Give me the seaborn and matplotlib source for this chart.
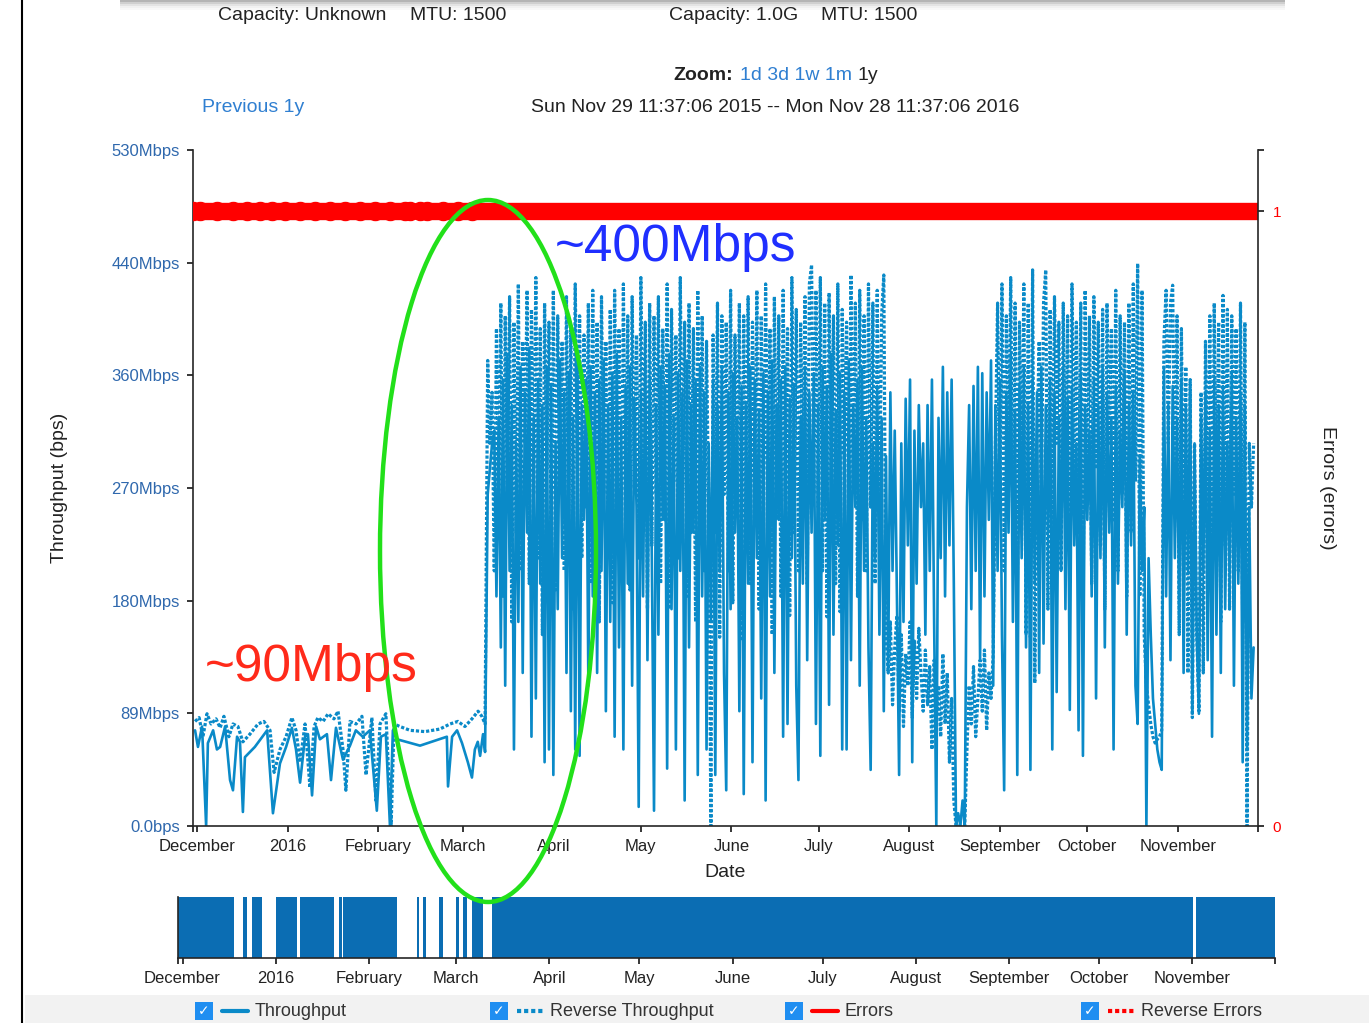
import numpy as np
import pandas as pd
import matplotlib
matplotlib.use("Agg")
import matplotlib.pyplot as plt
import seaborn as sns
from matplotlib.patches import Ellipse, Rectangle
from matplotlib.lines import Line2D

sns.set_style("ticks")
plt.rcParams['font.family'] = ['Liberation Sans', 'DejaVu Sans']

start = pd.Timestamp("2015-11-29 11:37:06")
end = pd.Timestamp("2016-11-28 11:37:06")

# before the upgrade: (days after start, Mbps)
tp_early_days = [0.7, 1.7, 3.1, 4.5, 5.1, 6.9, 8.2, 9.3, 11.0, 12.7, 13.7, 15.1, 16.1, 17.1, 17.8,
                 21.2, 25.4, 27.4, 29.8, 31.9, 33.9, 35.3, 36.7, 38.4, 39.4, 40.8, 42.2, 43.5, 45.9,
                 47.3, 49.0, 51.4, 53.8, 55.8, 58.2, 60.6, 63.0, 64.4, 66.1, 67.5, 68.5, 69.9, 77.8,
                 87.0, 87.4, 88.8, 90.5, 92.2, 94.2, 95.6, 96.6, 97.6, 98.4, 99.4, 100.1]
tp_early = [75, 62, 78, 0, 65, 75, 60, 62, 78, 36, 28, 70, 66, 11, 54,
            62, 75, 10, 49, 62, 77, 60, 34, 70, 72, 24, 78, 68, 72,
            36, 77, 52, 63, 75, 70, 75, 12, 70, 72, 0, 75, 68, 63,
            70, 31, 70, 75, 65, 50, 38, 60, 66, 55, 72, 58]

rev_early_days = [0.7, 2.1, 3.4, 4.8, 6.2, 7.9, 9.3, 10.6, 12.3, 13.7, 15.4, 17.1, 19.5, 22.3, 24.3,
                  26.4, 27.8, 29.8, 31.9, 33.9, 35.3, 36.7, 38.4, 40.1, 41.5, 42.8, 44.6, 46.3, 48.3,
                  49.7, 51.4, 52.4, 53.8, 55.9, 57.9, 59.3, 61.3, 62.7, 64.1, 66.1, 67.9, 68.9, 70.9,
                  74.4, 79.5, 84.6, 88.1, 90.8, 93.2, 95.6, 97.7, 99.0, 100.1]
rev_early = [82, 85, 70, 88, 80, 84, 77, 86, 70, 80, 78, 66, 72, 80, 82,
             75, 42, 60, 70, 85, 75, 50, 80, 30, 78, 85, 82, 88, 84,
             90, 60, 28, 82, 80, 86, 40, 85, 20, 80, 88, 0, 80, 78,
             75, 74, 76, 80, 82, 78, 84, 90, 86, 80]

# after the upgrade: one test every 0.75 days from day 101
dense_days = list(101 + 0.75 * np.arange(351))
tp_dense = [
    260, 280, 300, 310, 180, 320, 140, 350, 110, 370, 200, 330, 60, 300, 160, 360, 120, 340, 230, 375, 70, 320, 100, 350, 190,
    330, 50, 360, 60, 345, 40, 300, 170, 365, 210, 340, 120, 355, 90, 320, 60, 370, 55, 330, 240, 350, 110, 360, 180, 340,
    120, 350, 200, 365, 90, 330, 160, 355, 70, 370, 140, 320, 60, 345, 190, 360, 110, 335, 250, 15, 340, 180, 365, 130, 350,
    210, 12, 330, 150, 360, 240, 345, 45, 370, 170, 320, 60, 355, 200, 340, 20, 365, 140, 330, 230, 350, 40, 360, 180, 340,
    60, 300, 160, 350, 40, 330, 200, 360, 120, 28, 340, 170, 355, 230, 320, 90, 345, 25, 330, 190, 360, 50, 350, 210, 325,
    100, 355, 20, 340, 180, 365, 120, 330, 240, 350, 70, 360, 80, 335, 210, 345, 110, 36, 320, 190, 360, 130, 340, 230, 355,
    80, 330, 55, 360, 240, 345, 95, 370, 150, 325, 220, 355, 60, 340, 60, 365, 130, 330, 250, 350, 110, 360, 200, 320, 140,
    44, 300, 210, 345, 150, 320, 90, 290, 120, 340, 200, 310, 180, 40, 300, 160, 335, 220, 350, 50, 310, 190, 330, 250, 300,
    150, 330, 200, 350, 160, 0, 320, 210, 360, 180, 340, 220, 350, 190, 0, 10, 0, 20, 0, 250, 330, 170, 345, 200, 360,
    130, 355, 180, 340, 240, 365, 110, 330, 200, 350, 150, 28, 340, 230, 370, 160, 325, 40, 345, 210, 360, 140, 330, 44, 350,
    190, 340, 120, 360, 143, 330, 230, 350, 60, 340, 105, 320, 200, 360, 170, 335, 91, 345, 220, 300, 75, 355, 55, 330, 240,
    310, 180, 350, 100, 330, 210, 360, 140, 340, 230, 320, 60, 345, 190, 310, 250, 355, 150, 330, 220, 340, 110, 80, 290, 200,
    250, 0, 210, 150, 100, 80, 60, 50, 44, 360, 180, 330, 130, 345, 210, 320, 160, 350, 120, 330, 200, 340, 88, 300, 150,
    88, 320, 200, 340, 130, 310, 70, 350, 150, 330, 120, 345, 170, 300, 200, 355, 110, 320, 190, 340, 50, 330, 60, 250, 100, 140]
rev_dense = [
    365, 300, 340, 200, 390, 250, 410, 180, 400, 270, 415, 160, 395, 230, 425, 200, 380, 300, 420, 190, 405, 260, 430, 210, 390,
    150, 410, 280, 395, 230, 420, 185, 400, 260, 380, 200, 415, 240, 390, 170, 425, 280, 400, 210, 385, 250, 410, 190, 420, 230,
    395, 160, 415, 260, 380, 220, 405, 175, 420, 270, 390, 200, 425, 240, 400, 185, 415, 265, 385, 210, 430, 250, 395, 170, 410,
    220, 400, 260, 415, 190, 390, 240, 425, 170, 405, 270, 385, 210, 430, 250, 395, 180, 410, 230, 390, 160, 420, 260, 400, 200,
    380, 240, 0, 385, 230, 410, 148, 400, 260, 395, 200, 420, 175, 385, 250, 410, 145, 400, 230, 415, 190, 395, 260, 420, 170,
    400, 225, 425, 260, 390, 150, 415, 240, 400, 180, 420, 255, 390, 165, 430, 230, 405, 200, 395, 270, 415, 190, 425, 440, 260,
    420, 250, 430, 200, 410, 164, 418, 270, 400, 190, 425, 168, 405, 290, 395, 220, 432, 260, 410, 180, 420, 240, 400, 200, 425,
    250, 410, 190, 420, 230, 400, 432, 150, 120, 160, 95, 140, 165, 90, 150, 78, 135, 110, 160, 85, 145, 100, 155, 120, 90,
    138, 95, 125, 60, 130, 85, 110, 70, 135, 80, 120, 50, 100, 20, 0, 0, 0, 0, 0, 60, 110, 80, 125, 70, 100,
    130, 90, 138, 75, 120, 100, 135, 300, 410, 250, 425, 200, 400, 280, 430, 220, 410, 180, 395, 260, 425, 150, 410, 148, 436,
    112, 300, 380, 250, 410, 436, 170, 405, 230, 415, 300, 395, 200, 410, 260, 400, 190, 425, 280, 395, 230, 410, 150, 420, 260,
    400, 190, 415, 280, 395, 220, 405, 170, 410, 300, 390, 240, 420, 200, 400, 260, 395, 180, 410, 230, 425, 270, 441, 180, 420,
    150, 110, 95, 80, 70, 65, 68, 70, 75, 380, 420, 300, 410, 424, 260, 400, 150, 390, 200, 360, 120, 350, 85, 300, 150,
    90, 340, 120, 380, 250, 400, 180, 410, 230, 395, 160, 416, 220, 405, 170, 400, 260, 390, 200, 410, 160, 395, 0, 300, 250, 300]

# errors (always 1), two runs with a short gap
err_days_a = [0, 2.4, 8.2, 13.7, 18.5, 23.0, 27.1, 31.5, 36.7, 41.8, 46.9, 52.1, 57.2, 62.4, 67.5, 72.6, 74.4]
err_days_b = [77.8, 80.2, 85.7, 90.8, 95.6, 100, 115, 130, 145, 160, 175, 190, 205, 220, 235,
              250, 265, 280, 295, 310, 325, 340, 355, 365]

# overview strip: periods with data
ov_start = [0, 21.6, 24.6, 32.6, 40.6, 53.6, 54.9, 79.5, 81.5, 86.9, 92.5, 94.8, 97.8, 104.5, 338.7]
ov_end = [18.6, 23.0, 28.0, 39.6, 51.9, 54.6, 72.9, 80.2, 82.5, 88.2, 93.5, 96.2, 101.5, 337.7, 365]

month_ticks = ["2015-12-01", "2016-01-01", "2016-02-01", "2016-03-01", "2016-04-01", "2016-05-01",
               "2016-06-01", "2016-07-01", "2016-08-01", "2016-09-01", "2016-10-01", "2016-11-01"]
month_labels = ["December", "2016", "February", "March", "April", "May", "June", "July",
                "August", "September", "October", "November"]

y_ticks = [0, 88.33, 176.67, 265, 353.33, 441.67, 530]
y_labels = ["0.0bps", "89Mbps", "180Mbps", "270Mbps", "360Mbps", "440Mbps", "530Mbps"]

BLUE = "#0a8ac8"
RED = "#ff0000"
LINK = "#2f7fd1"

W, H = 1369, 1023


def to_dates(days):
    return start + pd.to_timedelta(np.asarray(days, dtype=float), unit="D")


fig = plt.figure(figsize=(W / 100, H / 100), dpi=100)
fig.patch.set_facecolor("white")

ax = fig.add_axes([193 / W, 1 - 826 / H, 1065 / W, 676 / H])

df_tp = pd.DataFrame({"date": to_dates(tp_early_days + dense_days), "bps": tp_early + tp_dense})
df_rev = pd.DataFrame({"date": to_dates(rev_early_days + dense_days), "bps": rev_early + rev_dense})
sns.lineplot(data=df_tp, x="date", y="bps", ax=ax, color=BLUE, linewidth=1.9, estimator=None)
sns.lineplot(data=df_rev, x="date", y="bps", ax=ax, color=BLUE, linewidth=2.3,
             linestyle=(0, (1, 0.6)), estimator=None)

ax.set_xlim(start, end)
ax.set_ylim(0, 530)
ax.set_yticks(y_ticks)
ax.set_yticklabels(y_labels)
xt = [start] + list(pd.to_datetime(month_ticks)) + [end]
ax.set_xticks(xt)
ax.set_xticklabels([""] + month_labels + [""])
ax.tick_params(axis="both", length=4.5, width=1.1, color="black", labelsize=12)
ax.tick_params(axis="y", labelcolor="#2f68ad", pad=5)
ax.tick_params(axis="x", labelcolor="#222222", pad=5)
ax.spines["top"].set_visible(False)
ax.spines["right"].set_visible(False)
ax.spines["left"].set_linewidth(1.2)
ax.spines["bottom"].set_linewidth(1.2)
ax.set_xlabel("Date", fontsize=14, color="#222222")
ax.xaxis.set_label_coords(0.5, -0.056)
ax.set_ylabel("Throughput (bps)", fontsize=14, color="#222222")
ax.yaxis.set_label_coords(-0.117, 0.5)

ax2 = ax.twinx()
ax2.set_ylim(0, 1.0992)
ax2.plot(to_dates(err_days_a), [1] * len(err_days_a), color=RED, lw=12.5, marker="o", ms=14,
         markeredgewidth=0, solid_capstyle="round")
ax2.plot(to_dates(err_days_b), [1] * len(err_days_b), color=RED, lw=12.5, marker="o", ms=14,
         markevery=[0, 1, 2, 3, 4], markeredgewidth=0, solid_capstyle="round")
ax2.set_yticks([0, 1, 1.0992])
ax2.set_yticklabels(["0", "1", ""])
ax2.tick_params(axis="y", length=4.5, width=1.1, color="black", labelcolor=RED, labelsize=11, pad=6)
ax2.spines["top"].set_visible(False)
ax2.spines["left"].set_visible(False)
ax2.spines["bottom"].set_visible(False)
ax2.spines["right"].set_linewidth(1.2)
ax2.set_ylabel("Errors (errors)", fontsize=14, color="#222222", rotation=270, va="center")
ax2.yaxis.set_label_coords(1.065, 0.5)

# overview strip
ov = fig.add_axes([178 / W, 1 - 958 / H, 1097 / W, 61 / H])
for s, e in zip(ov_start, ov_end):
    ov.fill_between(to_dates([s, e]), 0, 1, color="#0b6db3", linewidth=0)
ov.set_xlim(start, end)
ov.set_ylim(0, 1)
ov.set_yticks([])
ov.set_xticks(xt)
ov.set_xticklabels([""] + month_labels + [""])
ov.tick_params(axis="x", length=4.5, width=1.1, color="black", labelsize=12, labelcolor="#222222", pad=5)
ov.spines["top"].set_visible(False)
ov.spines["right"].set_visible(False)
ov.spines["left"].set_linewidth(1.2)
ov.spines["bottom"].set_linewidth(1.2)

# page decorations
fig.add_artist(Rectangle((25 / W, 0), 1, 28 / H, transform=fig.transFigure,
                         facecolor="#f2f2f2", edgecolor="none", zorder=0))
fig.add_artist(Line2D([22 / W, 22 / W], [0, 1], transform=fig.transFigure, color="black", lw=1.5))
for i, a in enumerate([0.55, 0.35, 0.2, 0.1, 0.05]):
    fig.add_artist(Rectangle((120 / W, 1 - (i + 1) * 2 / H), 1165 / W, 2 / H, transform=fig.transFigure,
                             facecolor="#777777", alpha=a, edgecolor="none"))

fig.text(218 / W, 1 - 15 / H, "Capacity: Unknown", fontsize=14, color="#222222", va="center")
fig.text(410 / W, 1 - 15 / H, "MTU: 1500", fontsize=14, color="#222222", va="center")
fig.text(669 / W, 1 - 15 / H, "Capacity: 1.0G", fontsize=14, color="#222222", va="center")
fig.text(821 / W, 1 - 15 / H, "MTU: 1500", fontsize=14, color="#222222", va="center")

fig.text(673 / W, 1 - 75 / H, "Zoom:", fontsize=14, fontweight="bold", color="#222222", va="center")
fig.text(740 / W, 1 - 75 / H, "1d 3d 1w 1m", fontsize=14, color=LINK, va="center")
fig.text(857 / W, 1 - 75 / H, "1y", fontsize=14, color="#222222", va="center")
fig.text(202 / W, 1 - 107 / H, "Previous 1y", fontsize=14, color=LINK, va="center")
fig.text(775 / W, 1 - 107 / H, "Sun Nov 29 11:37:06 2015 -- Mon Nov 28 11:37:06 2016",
         fontsize=14, color="#222222", va="center", ha="center")

# annotations drawn over the chart
fig.add_artist(Ellipse((488 / W, 1 - 551 / H), 216 / W, 702 / H, transform=fig.transFigure,
                       fill=False, edgecolor="#22e01a", lw=3.2, zorder=5))
fig.text(205 / W, 1 - 668 / H, "~90Mbps", fontsize=37, color="#ff2a1a", va="center", zorder=6)
fig.text(555 / W, 1 - 247 / H, "~400Mbps", fontsize=37, color="#1f2fff", va="center", zorder=6)

# legend row
legend_items = [(204, "Throughput", BLUE, "-"), (499, "Reverse Throughput", BLUE, (0, (1, 0.7))),
                (794, "Errors", RED, "-"), (1090, "Reverse Errors", RED, (0, (1, 0.7)))]
ly = 1 - 1011 / H
for x0, label, col, ls in legend_items:
    fig.add_artist(Line2D([x0 / W], [ly], transform=fig.transFigure, marker="s", ms=13,
                          color="#1f8ef1", markeredgewidth=0))
    fig.text(x0 / W, ly, "\u2713", family=["DejaVu Sans"], fontsize=10, fontweight="bold",
             color="white", ha="center", va="center")
    fig.add_artist(Line2D([(x0 + 18) / W, (x0 + 44) / W], [ly, ly], transform=fig.transFigure,
                          color=col, lw=3, linestyle=ls))
    fig.text((x0 + 51) / W, ly, label, fontsize=13, color="#333333", va="center")

fig.savefig("out.png", dpi=100)
